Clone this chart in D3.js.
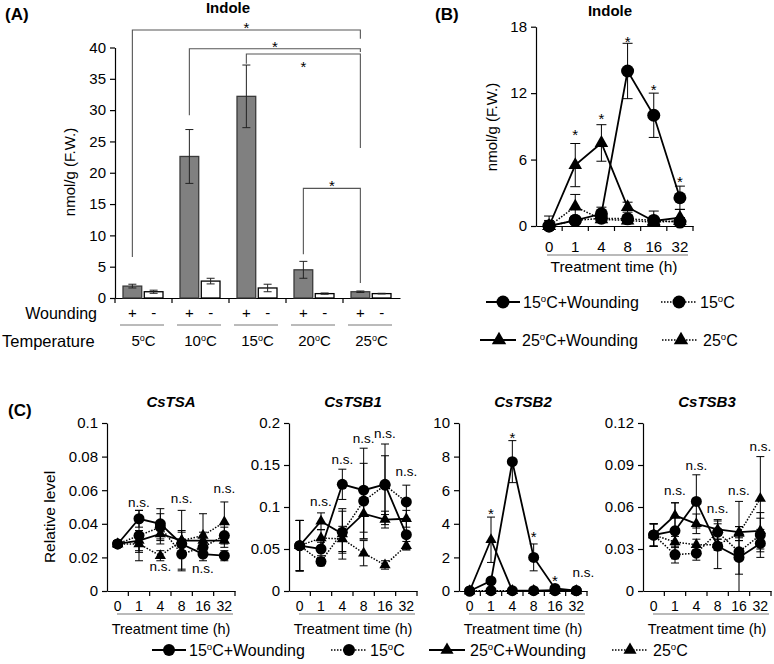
<!DOCTYPE html>
<html><head><meta charset="utf-8">
<script src="https://cdn.jsdelivr.net/npm/d3@7"></script>
<style>body{margin:0;background:#fff} svg{display:block}</style>
</head><body><svg id="c" width="774" height="664"></svg>
<script>
const FONT = '"Liberation Sans", Arial, Helvetica, sans-serif';

// ---------- Panel A data ----------
const tempGroups = ["5", "10", "15", "20", "25"];
const woundLevels = ["+", "-"];
const indoleWound = [1.9, 22.6, 32.2, 4.5, 1.0];
const indoleWoundErr = [0.3, 4.3, 5.0, 1.35, 0.12];
const indoleCtrl = [1.0, 2.7, 1.6, 0.7, 0.7];
const indoleCtrlErr = [0.25, 0.45, 0.6, 0.1, 0.05];
const aTicks = [0, 5, 10, 15, 20, 25, 30, 35, 40];
const bracketFrom = ["5", "10", "15", "20"];
const bracketTo = ["25", "25", "25", "25"];
const bracketTop = [42.8, 39.8, 38.96, 17.5];
const bracketLeftEnd = [6.55, 29.2, 37.4, 7.0];
const bracketRightEnd = [41.4, 39.3, 23.95, 2.4];
const bracketStar = [43.6, 40.6, 37.5, 18.5];

// ---------- Panel B data ----------
const bTimes = ["0", "1", "4", "8", "16", "32"];
const bTicks = [0, 6, 12, 18];
const b15W = [0, 0.5, 1.1, 14.0, 10.0, 2.55];
const b15WErr = [0.9, 0.3, 0.6, 2.5, 2.0, 1.05];
const b15 = [0, 0.5, 0.7, 0.65, 0.5, 0.35];
const b15Err = [0.3, 0.2, 0.3, 0.3, 0.2, 0.2];
const b25W = [0, 5.5, 7.5, 1.7, 0.45, 0.75];
const b25WErr = [0.5, 1.95, 1.65, 0.45, 0.9, 0.75];
const b25 = [0, 1.75, 0.6, 0.5, 0.35, 0.45];
const b25Err = [0.3, 1.1, 0.3, 0.3, 0.2, 0.3];
const bStarTime = ["1", "4", "8", "16", "32"];
const bStarLevel = [8.5, 10.0, 16.9, 12.6, 4.3];

// ---------- Panel C data ----------
const cTimes = ["0", "1", "4", "8", "16", "32"];
const genes = ["CsTSA", "CsTSB1", "CsTSB2", "CsTSB3"];
const tsaTicks = [0, 0.02, 0.04, 0.06, 0.08, 0.1];
const tsb1Ticks = [0, 0.05, 0.1, 0.15, 0.2];
const tsb2Ticks = [0, 2, 4, 6, 8, 10];
const tsb3Ticks = [0, 0.03, 0.06, 0.09, 0.12];

const tsa15W = [0.028, 0.043, 0.040, 0.028, 0.022, 0.021];
const tsa15WErr = [0.002, 0.005, 0.009, 0.007, 0.004, 0.003];
const tsa15 = [0.028, 0.033, 0.038, 0.022, 0.026, 0.033];
const tsa15Err = [0.002, 0.015, 0.008, 0.009, 0.006, 0.005];
const tsa25W = [0.028, 0.030, 0.034, 0.030, 0.030, 0.030];
const tsa25WErr = [0.002, 0.006, 0.006, 0.018, 0.005, 0.004];
const tsa25 = [0.028, 0.028, 0.021, 0.030, 0.033, 0.041];
const tsa25Err = [0.002, 0.005, 0.003, 0.006, 0.013, 0.012];

const tsb115W = [0.054, 0.050, 0.127, 0.120, 0.127, 0.067];
const tsb115WErr = [0.03, 0.008, 0.018, 0.05, 0.048, 0.018];
const tsb115 = [0.054, 0.035, 0.070, 0.107, 0.126, 0.106];
const tsb115Err = [0.03, 0.005, 0.025, 0.045, 0.035, 0.02];
const tsb125W = [0.054, 0.083, 0.068, 0.092, 0.085, 0.086];
const tsb125WErr = [0.03, 0.01, 0.03, 0.03, 0.01, 0.01];
const tsb125 = [0.054, 0.063, 0.062, 0.045, 0.031, 0.054];
const tsb125Err = [0.03, 0.01, 0.015, 0.015, 0.005, 0.005];

const tsb215W = [0, 0.6, 7.7, 2.0, 0.15, 0.02];
const tsb215WErr = [0, 0.2, 1.25, 0.8, 0.1, 0];
const tsb215 = [0, 0.02, 0.02, 0.02, 0.02, 0.02];
const tsb215Err = [0, 0, 0, 0, 0, 0];
const tsb225W = [0, 3.05, 0.02, 0.02, 0.05, 0];
const tsb225WErr = [0, 1.35, 0, 0, 0, 0];
const tsb225 = [0, 0.02, 0.02, 0.02, 0.02, 0.02];
const tsb225Err = [0, 0, 0, 0, 0, 0];

const tsb315W = [0.040, 0.043, 0.064, 0.032, 0.024, 0.034];
const tsb315WErr = [0.008, 0.02, 0.019, 0.016, 0.012, 0.01];
const tsb315 = [0.040, 0.026, 0.027, 0.042, 0.028, 0.040];
const tsb315Err = [0.008, 0.006, 0.005, 0.008, 0.036, 0.012];
const tsb325W = [0.040, 0.054, 0.048, 0.044, 0.042, 0.043];
const tsb325WErr = [0.008, 0.009, 0.007, 0.007, 0.004, 0.013];
const tsb325 = [0.040, 0.035, 0.033, 0.033, 0.041, 0.066];
const tsb325Err = [0.008, 0.004, 0.004, 0.004, 0.005, 0.03];

const tsaNoteTime = ["1", "8", "32", "4", "16"];
const tsaNoteLevel = [0.0526, 0.055, 0.061, 0.0146, 0.0136];
const tsb1NoteTime = ["1", "4", "8", "16", "32"];
const tsb1NoteLevel = [0.107, 0.157, 0.181, 0.188, 0.142];
const tsb2NoteTime = ["1", "4", "8", "16", "32"];
const tsb2NoteLevel = [4.8, 9.3, 3.45, 0.83, 1.1];
const tsb2NoteText = ["*", "*", "*", "*", "n.s."];
const tsb3NoteTime = ["1", "4", "8", "16", "32"];
const tsb3NoteLevel = [0.0716, 0.09, 0.059, 0.0716, 0.103];

// ---------- helpers ----------
const svg = d3.select("#c").attr("font-family", FONT);

function degText(g, x, y, pre, post, size, anchor) {
  const t = g.append("text").attr("x", x).attr("y", y).attr("font-size", size)
    .attr("text-anchor", anchor || "start").attr("fill", "#000");
  t.append("tspan").text(pre);
  t.append("tspan").text("o").attr("font-size", size * 0.6).attr("dy", -size * 0.33);
  t.append("tspan").text(post).attr("dy", size * 0.33);
  return t;
}
function styleAxis(g, size) {
  g.attr("font-family", FONT).attr("font-size", size);
  g.selectAll("path, line").attr("stroke", "#000").attr("stroke-width", 1.2);
  g.selectAll("text").attr("fill", "#000");
}
function marker(g, shape, x, y, r, tri) {
  if (shape === "circle") {
    g.append("circle").attr("cx", x).attr("cy", y).attr("r", r).attr("fill", "#000");
  } else {
    g.append("path").attr("d", d3.symbol().type(d3.symbolTriangle).size(tri)())
      .attr("transform", `translate(${x},${y})`).attr("fill", "#000");
  }
}
function label(g, x, y, txt, size, opts) {
  const t = g.append("text").attr("x", x).attr("y", y).attr("font-size", size)
    .attr("text-anchor", (opts && opts.anchor) || "middle").attr("fill", "#000").text(txt);
  if (opts && opts.bold) t.attr("font-weight", "bold");
  if (opts && opts.italic) t.attr("font-style", "italic");
  return t;
}

// ---------- Panel A ----------
const gA = svg.append("g");
const xA = d3.scaleBand().domain(tempGroups).range([115, 400]);
const xAin = d3.scaleBand().domain(woundLevels).range([8, 48]).paddingInner(0.12);
const yA = d3.scaleLinear().domain([0, 40]).range([298, 47.5]);

const yAxA = gA.append("g").attr("transform", "translate(115,0)")
  .call(d3.axisLeft(yA).tickValues(aTicks).tickSize(5).tickSizeOuter(0).tickPadding(4).tickFormat(d => String(d)));
styleAxis(yAxA, 15);
const xAxA = gA.append("g").attr("transform", `translate(0,${yA(0)})`)
  .call(d3.axisBottom(xA).tickSize(0).tickSizeOuter(0).tickFormat(""));
styleAxis(xAxA, 15);
tempGroups.forEach(gp => {
  gA.append("line").attr("x1", xA(gp)).attr("x2", xA(gp)).attr("y1", yA(0)).attr("y2", yA(0) + 5)
    .attr("stroke", "#000").attr("stroke-width", 1.2);
});

const barSets = [
  { lvl: "+", vals: indoleWound, errs: indoleWoundErr, fill: "#808080", stroke: "#3a3a3a" },
  { lvl: "-", vals: indoleCtrl, errs: indoleCtrlErr, fill: "#ffffff", stroke: "#000" }
];
barSets.forEach(bs => {
  tempGroups.forEach((gp, i) => {
    const x = xA(gp) + xAin(bs.lvl), w = xAin.bandwidth(), v = bs.vals[i];
    gA.append("rect").attr("x", x).attr("y", yA(v)).attr("width", w).attr("height", yA(0) - yA(v))
      .attr("fill", bs.fill).attr("stroke", bs.stroke).attr("stroke-width", 1.3);
    const cx = x + w / 2, e = bs.errs[i];
    const eg = gA.append("g").attr("stroke", "#222").attr("stroke-width", 1);
    eg.append("line").attr("x1", cx).attr("x2", cx).attr("y1", yA(v - e)).attr("y2", yA(v + e));
    [v - e, v + e].forEach(w2 => eg.append("line").attr("x1", cx - 4).attr("x2", cx + 4).attr("y1", yA(w2)).attr("y2", yA(w2)));
  });
});

// brackets
bracketFrom.forEach((f, i) => {
  const x1 = xA(f) + xAin("+") + xAin.bandwidth() / 2;
  const x2 = xA(bracketTo[i]) + xAin("+") + xAin.bandwidth() / 2;
  gA.append("path")
    .attr("d", `M${x1},${yA(bracketLeftEnd[i])}V${yA(bracketTop[i])}H${x2}V${yA(bracketRightEnd[i])}`)
    .attr("fill", "none").attr("stroke", "#555").attr("stroke-width", 1.1);
  label(gA, (x1 + x2) / 2, yA(bracketStar[i]) + 8.5, "*", 15);
});

// wounding / temperature rows
label(gA, 97, 319, "Wounding", 16, { anchor: "end" });
label(gA, 2, 347, "Temperature", 16.5, { anchor: "start" });
tempGroups.forEach(gp => {
  woundLevels.forEach(l => {
    label(gA, xA(gp) + xAin(l) + xAin.bandwidth() / 2, 318, l, 15);
  });
  gA.append("line").attr("x1", xA(gp) + 5).attr("x2", xA(gp) + 49).attr("y1", 325).attr("y2", 325)
    .attr("stroke", "#777").attr("stroke-width", 1);
  degText(gA, xA(gp) + xA.bandwidth() / 2, 346, gp, "C", 15, "middle");
});
label(gA, 228, 13, "Indole", 15, { bold: true });
label(gA, 5, 20, "(A)", 17, { bold: true, anchor: "start" });
gA.append("text").attr("transform", "translate(75,172) rotate(-90)").attr("text-anchor", "middle")
  .attr("font-size", 15).attr("fill", "#000").text("nmol/g (F.W.)");

// ---------- time course drawing ----------
function drawTimeCourse(g, o) {
  const xs = d3.scaleBand().domain(o.times).range([o.x0, o.x1]);
  const ys = d3.scaleLinear().domain([0, o.max]).range([o.yb, o.yt]);
  const cx = t => xs(t) + xs.bandwidth() / 2;
  const yAx = g.append("g").attr("transform", `translate(${o.x0},0)`)
    .call(d3.axisLeft(ys).tickValues(o.ticks).tickSize(5).tickSizeOuter(0).tickPadding(4).tickFormat(d => String(d)));
  styleAxis(yAx, o.tickFont);
  const xAx = g.append("g").attr("transform", `translate(0,${o.yb})`)
    .call(d3.axisBottom(xs).tickSize(0).tickSizeOuter(0).tickFormat(""));
  styleAxis(xAx, o.tickFont);
  o.times.concat(["end"]).forEach((t, i) => {
    const x = t === "end" ? o.x1 : xs(t);
    if (i === 0) return;
    g.append("line").attr("x1", x).attr("x2", x).attr("y1", o.yb).attr("y2", o.yb + 5)
      .attr("stroke", "#000").attr("stroke-width", 1.2);
  });
  o.times.forEach(t => label(g, cx(t), o.labY, t, o.xFont));
  g.append("line").attr("x1", o.ulX0).attr("x2", o.ulX1).attr("y1", o.ulY).attr("y2", o.ulY)
    .attr("stroke", "#777").attr("stroke-width", 1.2);
  label(g, o.ttX, o.ttY, "Treatment time (h)", o.ttFont);

  const eg = g.append("g").attr("stroke", "#000").attr("stroke-width", 1);
  o.series.forEach(s => {
    o.times.forEach((t, i) => {
      const v = s.vals[i], e = s.errs[i];
      if (!e) return;
      const x = cx(t);
      eg.append("line").attr("x1", x).attr("x2", x).attr("y1", ys(Math.max(0, v - e))).attr("y2", ys(v + e));
      [v - e, v + e].forEach(w => { if (w < 0) return;
        eg.append("line").attr("x1", x - o.cap).attr("x2", x + o.cap).attr("y1", ys(w)).attr("y2", ys(w)); });
    });
  });
  const line = d3.line().x((d, i) => cx(o.times[i])).y(d => ys(d));
  o.series.forEach(s => {
    g.append("path").attr("d", line(s.vals)).attr("fill", "none").attr("stroke", "#000")
      .attr("stroke-width", s.dotted ? 1.5 : 1.8).attr("stroke-dasharray", s.dotted ? "1.5,1.5" : null);
  });
  o.series.forEach(s => {
    o.times.forEach((t, i) => marker(g, s.shape, cx(t), ys(s.vals[i]), o.r, o.tri));
  });
  (o.notes || []).forEach(n => {
    const dx = n.txt === "n.s." && n.t === o.times[o.times.length - 1] && o.shiftLast ? o.shiftLast : 0;
    if (n.txt === "*") label(g, cx(n.t), ys(n.v) + 8.5, "*", 15);
    else label(g, cx(n.t) + dx, ys(n.v) + 4.5, n.txt, 13.5);
  });
  return { xs, ys };
}

// ---------- Panel B ----------
const gB = svg.append("g");
drawTimeCourse(gB, {
  times: bTimes, x0: 536, x1: 693, yb: 226, yt: 26.7, max: 18, ticks: bTicks,
  tickFont: 15, xFont: 15, labY: 252, ulX0: 547, ulX1: 688, ulY: 255,
  ttX: 614, ttY: 272, ttFont: 15.5, cap: 5, r: 6.5, tri: 80,
  series: [
    { vals: b15, errs: b15Err, dotted: true, shape: "circle" },
    { vals: b25, errs: b25Err, dotted: true, shape: "triangle" },
    { vals: b25W, errs: b25WErr, dotted: false, shape: "triangle" },
    { vals: b15W, errs: b15WErr, dotted: false, shape: "circle" }
  ],
  notes: bStarTime.map((t, i) => ({ t, v: bStarLevel[i], txt: "*" }))
});
label(gB, 610, 16, "Indole", 15, { bold: true });
label(gB, 435, 20, "(B)", 17, { bold: true, anchor: "start" });
gB.append("text").attr("transform", "translate(497,127) rotate(-90)").attr("text-anchor", "middle")
  .attr("font-size", 15).attr("fill", "#000").text("nmol/g (F.W.)");

function legendItem(g, x1, x2, mx, y, dotted, shape, tx, pre, post, size, r, tri) {
  g.append("line").attr("x1", x1).attr("x2", x2).attr("y1", y).attr("y2", y).attr("stroke", "#000")
    .attr("stroke-width", dotted ? 1.5 : 1.8).attr("stroke-dasharray", dotted ? "1.5,1.5" : null);
  marker(g, shape, mx, y, r, tri);
  degText(g, tx, y + size * 0.36, pre, post, size, "start");
}
legendItem(gB, 486, 520, 503, 302, false, "circle", 523, "15", "C+Wounding", 16, 6.5, 80);
legendItem(gB, 661, 697, 679, 302, true, "circle", 700, "15", "C", 16, 6.5, 80);
legendItem(gB, 480, 516, 499, 340, false, "triangle", 522, "25", "C+Wounding", 16, 6.5, 90);
legendItem(gB, 662, 697, 681, 340, true, "triangle", 703, "25", "C", 16, 6.5, 90);

// ---------- Panel C ----------
const gC = svg.append("g");
const cPanels = [
  { name: genes[0], x0: 107, max: 0.1, ticks: tsaTicks,
    s: [[tsa15, tsa15Err, true, "circle"], [tsa25, tsa25Err, true, "triangle"], [tsa25W, tsa25WErr, false, "triangle"], [tsa15W, tsa15WErr, false, "circle"]],
    notes: tsaNoteTime.map((t, i) => ({ t, v: tsaNoteLevel[i], txt: "n.s." })) },
  { name: genes[1], x0: 289, max: 0.2, ticks: tsb1Ticks,
    s: [[tsb115, tsb115Err, true, "circle"], [tsb125, tsb125Err, true, "triangle"], [tsb125W, tsb125WErr, false, "triangle"], [tsb115W, tsb115WErr, false, "circle"]],
    notes: tsb1NoteTime.map((t, i) => ({ t, v: tsb1NoteLevel[i], txt: "n.s." })) },
  { name: genes[2], x0: 459, max: 10, ticks: tsb2Ticks, shiftLast: 7,
    s: [[tsb215, tsb215Err, true, "circle"], [tsb225, tsb225Err, true, "triangle"], [tsb225W, tsb225WErr, false, "triangle"], [tsb215W, tsb215WErr, false, "circle"]],
    notes: tsb2NoteTime.map((t, i) => ({ t, v: tsb2NoteLevel[i], txt: tsb2NoteText[i] })) },
  { name: genes[3], x0: 643, max: 0.12, ticks: tsb3Ticks,
    s: [[tsb315, tsb315Err, true, "circle"], [tsb325, tsb325Err, true, "triangle"], [tsb325W, tsb325WErr, false, "triangle"], [tsb315W, tsb315WErr, false, "circle"]],
    notes: tsb3NoteTime.map((t, i) => ({ t, v: tsb3NoteLevel[i], txt: "n.s." })) }
];
cPanels.forEach(p => {
  const W = 128;
  drawTimeCourse(gC, {
    times: cTimes, x0: p.x0, x1: p.x0 + W, yb: 591, yt: 423, max: p.max, ticks: p.ticks,
    tickFont: 15, xFont: 14, labY: 611, ulX0: p.x0 + 10, ulX1: p.x0 + W - 2, ulY: 614,
    ttX: p.x0 + W / 2, ttY: 634, ttFont: 14.5, cap: 4, r: 5.5, tri: 55, shiftLast: p.shiftLast,
    series: p.s.map(a => ({ vals: a[0], errs: a[1], dotted: a[2], shape: a[3] })),
    notes: p.notes
  });
  label(gC, p.x0 + W / 2, 407, p.name, 15, { bold: true, italic: true });
});
label(gC, 8, 416, "(C)", 17, { bold: true, anchor: "start" });
gC.append("text").attr("transform", "translate(55,517) rotate(-90)").attr("text-anchor", "middle")
  .attr("font-size", 15.5).attr("fill", "#000").text("Relative level");

legendItem(gC, 152, 186, 169, 650, false, "circle", 189, "15", "C+Wounding", 16, 6, 65);
legendItem(gC, 331, 367, 349, 650, true, "circle", 370, "15", "C", 16, 6, 65);
legendItem(gC, 429, 465, 447, 650, false, "triangle", 470, "25", "C+Wounding", 16, 6, 75);
legendItem(gC, 612, 647, 630, 650, true, "triangle", 653, "25", "C", 16, 6, 75);
</script></body></html>
